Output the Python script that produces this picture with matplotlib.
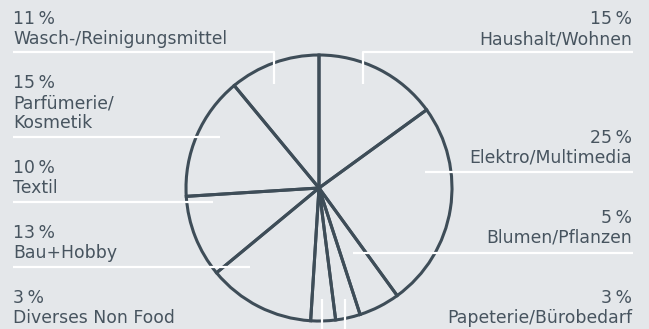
import matplotlib
matplotlib.use("Agg")
import matplotlib.pyplot as plt

# Sortimentsanteile, im Uhrzeigersinn ab 12 Uhr
categories = ["Haushalt/Wohnen", "Elektro/Multimedia", "Blumen/Pflanzen",
              "Papeterie/Bürobedarf", "Diverses Non Food", "Bau+Hobby",
              "Textil", "Parfümerie/\nKosmetik", "Wasch-/Reinigungsmittel"]
shares = [15, 25, 5, 3, 3, 13, 10, 15, 11]
sides = ["right", "right", "right", "right", "left", "left", "left", "left", "left"]

BG = "#e4e7ea"
LINE = "#3e4d58"
TEXT = "#47545f"
W, H = 649, 329

fig = plt.figure(figsize=(W / 100, H / 100), dpi=100, facecolor=BG)
ax = fig.add_axes([0, 0, 1, 1])


def yy(y):
    # pixel row (from top) -> data y
    return H - y


cx, cy, r = 319, 188, 133
ax.pie(shares, startangle=90, counterclock=False, center=(cx, yy(cy)),
       radius=r, frame=True,
       wedgeprops=dict(facecolor="none", edgecolor=LINE, linewidth=2.2))
ax.set_xlim(0, W)
ax.set_ylim(0, H)
ax.set_aspect("equal")
ax.axis("off")

# baseline of the percentage line for each label (pixel rows)
baselines = {
    "Haushalt/Wohnen": 24, "Elektro/Multimedia": 143, "Blumen/Pflanzen": 223,
    "Papeterie/Bürobedarf": 303, "Diverses Non Food": 303, "Bau+Hobby": 238,
    "Textil": 173, "Parfümerie/\nKosmetik": 88, "Wasch-/Reinigungsmittel": 24,
}
font = dict(family=["DejaVu Sans"], size=12.4, color=TEXT)
for name, share, side in zip(categories, shares, sides):
    x = 13 if side == "left" else 632
    b = baselines[name]
    lines = [f"{share}\u2009%"] + name.split("\n")
    for i, t in enumerate(lines):
        ax.text(x, yy(b + 20 * i), t, ha=side, va="baseline", **font)

# white leader lines
lw = 1.6
leaders = [
    [(13, 52), (274, 52), (274, 84)],
    [(13, 137), (220, 137)],
    [(13, 202), (213, 202)],
    [(13, 267), (250, 267)],
    [(322, 299), (322, 335)],
    [(345, 299), (345, 335)],
    [(633, 52), (363, 52), (363, 84)],
    [(633, 172), (425, 172)],
    [(633, 253), (353, 253)],
]
for pts in leaders:
    xs = [p[0] for p in pts]
    ys = [yy(p[1]) for p in pts]
    ax.plot(xs, ys, color="white", lw=lw, solid_capstyle="butt", zorder=5)

fig.savefig("out.png", dpi=100, facecolor=BG)
